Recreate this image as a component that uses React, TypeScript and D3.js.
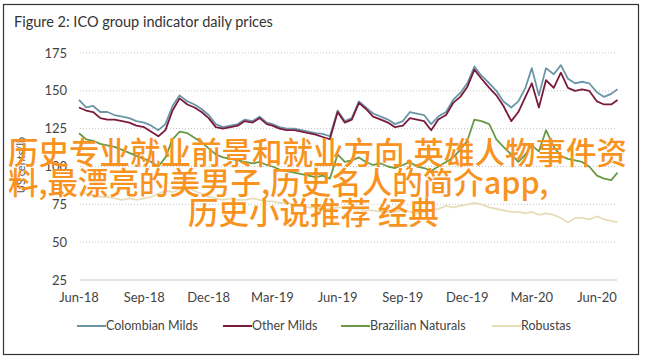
import * as d3 from 'd3';

const W = 646;
const H = 360;

// sampled every ~10 days, Jun 2018 - Jun 2020 (US cents/lb)
const dates = [
  '2018-06-01', '2018-06-11', '2018-06-21', '2018-07-01', '2018-07-11', '2018-07-21',
  '2018-08-01', '2018-08-11', '2018-08-21', '2018-09-01', '2018-09-11', '2018-09-21',
  '2018-10-01', '2018-10-11', '2018-10-21', '2018-11-01', '2018-11-11', '2018-11-21',
  '2018-12-01', '2018-12-11', '2018-12-21', '2019-01-01', '2019-01-11', '2019-01-21',
  '2019-02-01', '2019-02-11', '2019-02-21', '2019-03-01', '2019-03-11', '2019-03-21',
  '2019-04-01', '2019-04-11', '2019-04-21', '2019-05-01', '2019-05-11', '2019-05-21',
  '2019-06-01', '2019-06-11', '2019-06-21', '2019-07-01', '2019-07-11', '2019-07-21',
  '2019-08-01', '2019-08-11', '2019-08-21', '2019-09-01', '2019-09-11', '2019-09-21',
  '2019-10-01', '2019-10-11', '2019-10-21', '2019-11-01', '2019-11-11', '2019-11-21',
  '2019-12-01', '2019-12-11', '2019-12-21', '2020-01-01', '2020-01-11', '2020-01-21',
  '2020-02-01', '2020-02-11', '2020-02-21', '2020-03-01', '2020-03-11', '2020-03-21',
  '2020-04-01', '2020-04-11', '2020-04-21', '2020-05-01', '2020-05-11', '2020-05-21',
  '2020-06-01', '2020-06-11', '2020-06-21', '2020-06-30',
];

const colombianMilds = [
  144, 139, 140, 136, 136, 134, 133, 132, 130, 129, 127, 124,
  128, 140, 147, 143, 141, 138, 134, 128, 126, 127, 128, 131,
  130, 133, 129, 128, 126, 125, 125, 124, 123, 122, 121.5, 120,
  137, 130, 132, 143, 139, 135, 133, 131, 128, 130, 136, 135,
  134, 128, 133, 136, 144, 148.6, 155, 166, 160, 155, 150, 143,
  139, 143, 152, 165, 147, 165, 161, 167, 158, 155, 156, 155,
  149, 146, 148, 151,
];

const otherMilds = [
  139, 137, 136, 132, 131, 131, 130, 129, 127, 126, 123, 120,
  124, 137, 145, 141, 139, 136, 132, 126, 125, 126, 127, 130,
  129, 132, 128, 127, 125, 124, 124, 123, 122, 121, 119.5, 118,
  136, 129, 131, 142, 138, 133, 131, 129, 126, 127, 132, 131,
  130, 124, 131, 134, 142, 146, 152.6, 164, 158, 152, 147, 140,
  130, 136, 146, 155, 139, 157, 152, 162, 152, 150, 151, 150,
  143, 141, 141, 144,
];

const brazilianNaturals = [
  122, 118, 117, 115, 114, 113, 111, 109, 107, 105, 103, 100,
  106, 118, 123, 122, 119, 116, 112, 108, 106, 105, 104, 103,
  102, 103, 101, 100, 98, 97, 96, 95, 94, 93, 94, 92,
  108, 103, 104, 106, 103, 101, 102, 100, 99, 101, 103, 100,
  99, 97, 100, 103, 106, 111, 117, 131, 130, 128, 118, 113,
  108, 103, 108, 114, 110, 124, 113, 107, 105, 104, 103, 100,
  94, 92, 91, 96,
];

const robustas = [
  83, 82, 81, 80, 80, 79, 78, 79, 78, 79, 80, 82,
  84, 83, 85, 86, 84, 82, 80, 79, 78, 79, 78, 78,
  79, 78, 77, 77, 76, 76, 75, 74, 73, 73, 72, 72,
  73, 73, 72, 72, 71, 71, 70, 70, 70, 71, 70, 69,
  70, 71, 72, 74, 73, 74, 75, 76, 75, 73, 72, 71,
  70, 70, 69, 70, 68, 69, 68, 66, 63, 66, 66, 65,
  67, 65, 64, 63,
];

const seriesNames = ['Colombian Milds', 'Other Milds', 'Brazilian Naturals', 'Robustas'];
const seriesColors = ['#6b96a8', '#7a1b3d', '#6a9a48', '#e8ddb8'];
const seriesValues = [colombianMilds, otherMilds, brazilianNaturals, robustas];

const yTicks = [25, 50, 75, 100, 125, 150, 175];
const xTickDates = [
  '2018-06-01', '2018-09-01', '2018-12-01', '2019-03-01', '2019-06-01',
  '2019-09-01', '2019-12-01', '2020-03-01', '2020-06-01',
];

const overlayLines = [
  '历史专业就业前景和就业方向,英雄人物事件资',
  '料,最漂亮的美男子,历史名人的简介app,',
  '历史小说推荐 经典',
];

const parse = d3.timeParse('%Y-%m-%d');
const font = 'Lato, "Noto Sans", sans-serif';

export default function App() {
  const x = d3
    .scaleTime()
    .domain([parse('2018-06-01')!, parse('2020-06-01')!])
    .range([79, 597]);
  const y = d3.scaleLinear().domain([25, 175]).range([280, 53]);
  const fmt = d3.timeFormat('%b-%y');

  const line = d3
    .line<[Date, number]>()
    .x(d => x(d[0]))
    .y(d => y(d[1]));

  const parsedDates = dates.map(d => parse(d)!);

  const legendX = [77, 223, 341, 492];

  return (
    <svg
      width={W}
      height={H}
      style={{ position: 'absolute', left: 0, top: 0, background: '#fff' }}
      fontFamily={font}
    >
      <rect x={0} y={0} width={W} height={H} fill="#fff" />
      <rect x={3.5} y={4.5} width={635} height={350} fill="none" stroke="#333" strokeWidth={1.2} />
      <text x={14} y={27} fontSize={14.5} fill="#333">
        Figure 2: ICO group indicator daily prices
      </text>

      {/* grid */}
      {yTicks.map(t => (
        <g key={t}>
          <line
            x1={80}
            x2={617}
            y1={y(t)}
            y2={y(t)}
            stroke={t === 25 ? '#d9d9d9' : '#c4c4c4'}
            strokeWidth={t === 25 ? 1.5 : 1}
            strokeDasharray={t === 25 ? undefined : '1 2'}
          />
          <text x={67} y={y(t)} dy="0.35em" textAnchor="end" fontSize={13} fill="#444">
            {t}
          </text>
        </g>
      ))}

      <text
        transform={`translate(25,165) rotate(-90)`}
        textAnchor="middle"
        fontSize={11}
        fill="#555"
      >
        US cents/lb
      </text>

      {xTickDates.map(d => (
        <text key={d} x={x(parse(d)!)} y={302} textAnchor="middle" fontSize={13} fill="#444">
          {fmt(parse(d)!)}
        </text>
      ))}

      {/* series, drawn back to front */}
      {[3, 2, 0, 1].map(i => (
        <path
          key={seriesNames[i]}
          d={line(parsedDates.map((dt, k) => [dt, seriesValues[i][k]]))!}
          fill="none"
          stroke={seriesColors[i]}
          strokeWidth={1.8}
          strokeLinejoin="round"
        />
      ))}

      {/* legend */}
      {seriesNames.map((name, i) => (
        <g key={name} transform={`translate(${legendX[i]},326)`}>
          <line x1={0} x2={29} y1={0} y2={0} stroke={seriesColors[i]} strokeWidth={2} />
          <text x={29} y={0} dy="0.35em" fontSize={12.5} fill="#444">
            {name}
          </text>
        </g>
      ))}

      {/* overlay */}
      <g fontFamily='"Noto Sans CJK SC", sans-serif' fontWeight={500} fill="#f7931e" fontSize={30.5}>
        <text x={8} y={164}>{overlayLines[0]}</text>
        <text x={8} y={194}>{overlayLines[1]}</text>
        <text x={188} y={224}>{overlayLines[2]}</text>
      </g>
    </svg>
  );
}
